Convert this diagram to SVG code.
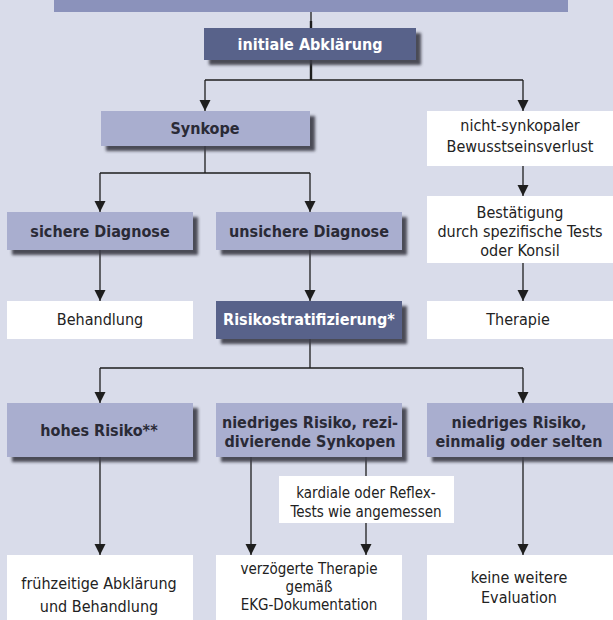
<svg xmlns="http://www.w3.org/2000/svg" width="613" height="620" viewBox="0 0 613 620">
<defs>
<style>
.t{font-family:"DejaVu Sans Condensed","DejaVu Sans",sans-serif;font-stretch:condensed;font-size:16px;text-anchor:middle;fill:#222}
.s{font-size:15px}
.b{font-weight:bold;fill:#2a2a36}
.w{font-weight:bold;fill:#ffffff}
.dark{fill:#59628a}
.mid{fill:#a9aecf}
.white{fill:#ffffff}
.sh{filter:url(#sh)}
.c{fill:none;stroke:#1e1e1e;stroke-width:1.3}
.a{marker-end:url(#ah)}
</style>
<marker id="ah" markerUnits="userSpaceOnUse" markerWidth="12" markerHeight="12" refX="11" refY="6" orient="auto" viewBox="0 0 12 12"><path d="M0,0.5 L11,6 L0,11.5z" fill="#1e1e1e"/></marker>
<filter id="sh" x="-10%" y="-20%" width="130%" height="160%"><feDropShadow dx="5" dy="5" stdDeviation="1.8" flood-color="#3a3a44" flood-opacity="0.9"/></filter>
</defs>
<rect x="0" y="0" width="613" height="620" fill="#d9dcea"/>
<g id="banner"><rect x="54" y="0" width="514" height="12" fill="#8b92bb"/></g>
<g id="connectors">
<path class="c" d="M311,12 V28"/>
<path d="M311,21 V28 M311,60 V80" stroke="#1e1e1e" stroke-width="2.4" fill="none"/>
<path class="c" d="M205,80 H523"/>
<path class="c a" d="M205,80 V111"/>
<path class="c a" d="M523,80 V111"/>
<path class="c" d="M205,146 V173 M100,173 H310"/>
<path class="c a" d="M100,173 V212"/>
<path class="c a" d="M310,173 V212"/>
<path class="c a" d="M100,250 V301"/>
<path class="c a" d="M310,250 V301"/>
<path class="c a" d="M523,166 V196"/>
<path class="c a" d="M523,263 V301"/>
<path class="c" d="M310,339 V368 M100,368 H523"/>
<path class="c a" d="M100,368 V403"/>
<path class="c a" d="M523,368 V403"/>
<path class="c a" d="M100,457 V555"/>
<path class="c a" d="M251,457 V555"/>
<path class="c" d="M366,457 V476"/>
<path class="c a" d="M366,523 V555"/>
<path class="c a" d="M523,457 V555"/>
</g>
<g id="initiale"><rect class="dark sh" x="204" y="28" width="212" height="32"/><text class="t w" x="310" y="50">initiale Abklärung</text></g>
<g id="synkope"><rect class="mid sh" x="101" y="111" width="209" height="35"/><text class="t b" x="205" y="134">Synkope</text></g>
<g id="nicht-synkopal"><rect class="white" x="427" y="111" width="186" height="55"/><text class="t" x="520" y="131">nicht-synkopaler</text><text class="t" x="520" y="152">Bewusstseinsverlust</text></g>
<g id="sichere"><rect class="mid sh" x="7" y="212" width="186" height="38"/><text class="t b" x="100" y="237">sichere Diagnose</text></g>
<g id="unsichere"><rect class="mid sh" x="216" y="212" width="186" height="38"/><text class="t b" x="309" y="237">unsichere Diagnose</text></g>
<g id="bestaetigung"><rect class="white" x="427" y="196" width="186" height="67"/><text class="t" x="520" y="218">Bestätigung</text><text class="t" x="520" y="237">durch spezifische Tests</text><text class="t" x="520" y="256">oder Konsil</text></g>
<g id="behandlung"><rect class="white" x="7" y="301" width="186" height="38"/><text class="t" x="100" y="325">Behandlung</text></g>
<g id="risiko"><rect class="dark sh" x="216" y="301" width="186" height="38"/><text class="t w" x="309" y="325">Risikostratifizierung*</text></g>
<g id="therapie"><rect class="white" x="427" y="301" width="186" height="38"/><text class="t" x="518" y="325">Therapie</text></g>
<g id="hohes"><rect class="mid sh" x="7" y="403" width="186" height="54"/><text class="t b" x="99" y="436">hohes Risiko**</text></g>
<g id="niedrig-rezidiv"><rect class="mid sh" x="216" y="403" width="186" height="54"/><text class="t b" x="310" y="428">niedriges Risiko, rezi-</text><text class="t b" x="310" y="447">divierende Synkopen</text></g>
<g id="niedrig-selten"><rect class="mid sh" x="427" y="403" width="186" height="54"/><text class="t b" x="519" y="428">niedriges Risiko,</text><text class="t b" x="519" y="447">einmalig oder selten</text></g>
<g id="kardiale"><rect class="white" x="279" y="476" width="175" height="47"/><text class="t s" x="366" y="498">kardiale oder Reflex-</text><text class="t s" x="366" y="517">Tests wie angemessen</text></g>
<g id="fruehzeitig"><rect class="white" x="7" y="555" width="186" height="65"/><text class="t" x="99" y="589">frühzeitige Abklärung</text><text class="t" x="99" y="612">und Behandlung</text></g>
<g id="verzoegert"><rect class="white" x="216" y="555" width="186" height="65"/><text class="t s" x="309" y="574">verzögerte Therapie</text><text class="t s" x="309" y="592">gemäß</text><text class="t s" x="309" y="610">EKG-Dokumentation</text></g>
<g id="keine"><rect class="white" x="427" y="555" width="186" height="65"/><text class="t" x="519" y="583">keine weitere</text><text class="t" x="519" y="603">Evaluation</text></g>
</svg>
